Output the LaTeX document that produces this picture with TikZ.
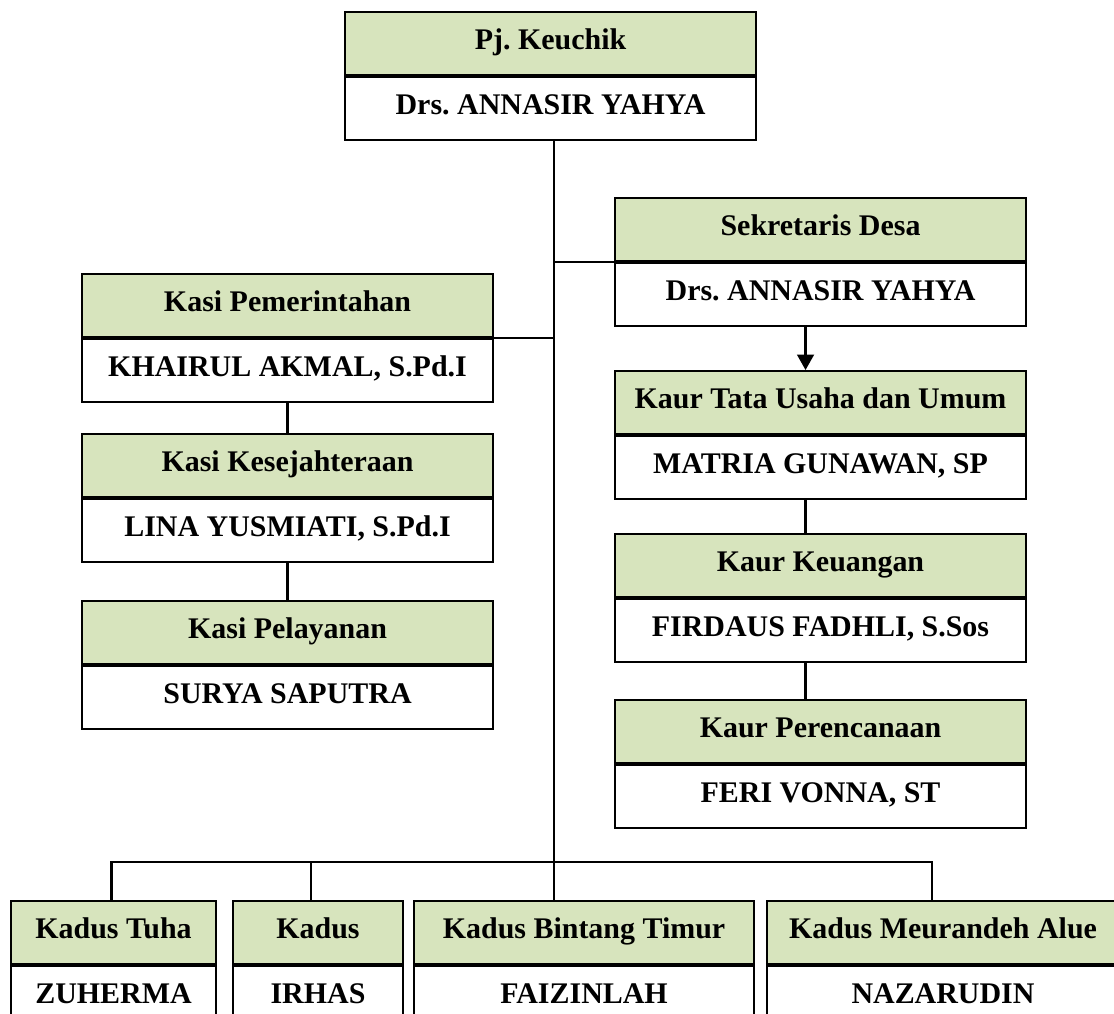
\documentclass[tikz,border=0pt]{standalone}
\usepackage{fontspec}
\setmainfont{Liberation Serif}
\usepackage{tikz}
\usetikzlibrary{calc,arrows.meta}
\frenchspacing
\definecolor{hijau}{HTML}{D7E4BD}
\tikzset{kotak/.style={draw=black,line width=1.4pt,inner sep=0pt,minimum height=1.57cm,
    text height=14pt,text depth=5pt,
    font=\fontsize{21.3}{25}\selectfont\bfseries},
  kepala/.style={kotak,fill=hijau},
  nama/.style={kotak,fill=white},
  garis/.style={line width=1.5pt}}
\newcommand*{\LebarKotak}{10.275cm}
% #1 name, #2 corner, #3 width, #4 jabatan, #5 pejabat
\newcommand*{\Jabatan}[5]{%
  \node[kepala,minimum width=#3,anchor=north west] (#1) at (#2) {#4};
  \node[nama,minimum width=#3,anchor=north] (#1-n) at (#1.south) {#5};}

\begin{document}
\begin{tikzpicture}[x=0.025cm,y=-0.025cm]
\useasboundingbox (0,0) rectangle (1114,1014);

\Jabatan{kc}{344,11}{\LebarKotak}{Pj. Keuchik}{Drs. ANNASIR YAHYA}
\Jabatan{sek}{614,197}{\LebarKotak}{Sekretaris Desa}{Drs. ANNASIR YAHYA}
\Jabatan{pem}{81,273}{\LebarKotak}{Kasi Pemerintahan}{KHAIRUL AKMAL, S.Pd.I}
\Jabatan{kes}{81,433}{\LebarKotak}{Kasi Kesejahteraan}{LINA YUSMIATI, S.Pd.I}
\Jabatan{pel}{81,600}{\LebarKotak}{Kasi Pelayanan}{SURYA SAPUTRA}
\Jabatan{tu}{614,370}{\LebarKotak}{Kaur Tata Usaha dan Umum}{MATRIA GUNAWAN, SP}
\Jabatan{keu}{614,533}{\LebarKotak}{Kaur Keuangan}{FIRDAUS FADHLI, S.Sos}
\Jabatan{ren}{614,699}{\LebarKotak}{Kaur Perencanaan}{FERI VONNA, ST}
% dusun
\Jabatan{tuha}{10,900}{5.125cm}{Kadus Tuha}{ZUHERMA}
\Jabatan{kd}{232,900}{4.25cm}{Kadus}{IRHAS}
\Jabatan{bt}{413,900}{8.5cm}{Kadus Bintang Timur}{FAIZINLAH}
\Jabatan{ma}{766,900}{8.8cm}{Kadus Meurandeh Alue}{NAZARUDIN}

\coordinate (atas) at ($(kc-n.south)+(3.5,0)$);
\coordinate (bus) at (atas |- 0,862);
\draw[garis] (atas) -- (atas |- bt.north);% garis utama
\draw[garis] (atas |- sek.south west) -- (sek.south west);
\draw[garis] (pem.south east) -- (atas |- pem.south east);

\draw[garis] (pem-n.south) -- (kes.north);
\draw[garis] (kes-n.south) -- (pel.north);
\draw[garis,-{Triangle[width=12pt,length=11pt]}] ($(sek-n.south)+(-15,0)$) -- ($(tu.north)+(-15,0)$);
\draw[garis] ($(tu-n.south)+(-15,0)$) -- ($(keu.north)+(-15,0)$);
\draw[garis] ($(keu-n.south)+(-15,0)$) -- ($(ren.north)+(-15,0)$);

\draw[garis] ($(tuha.north)+(-2,0)$) |- (bus) -| ($(ma.north)+(-11,0)$);
\draw[garis] ($(kd.north)+(-7,0)$) -- ($(kd.north |- bus)+(-7,0)$);
\end{tikzpicture}
\end{document}
